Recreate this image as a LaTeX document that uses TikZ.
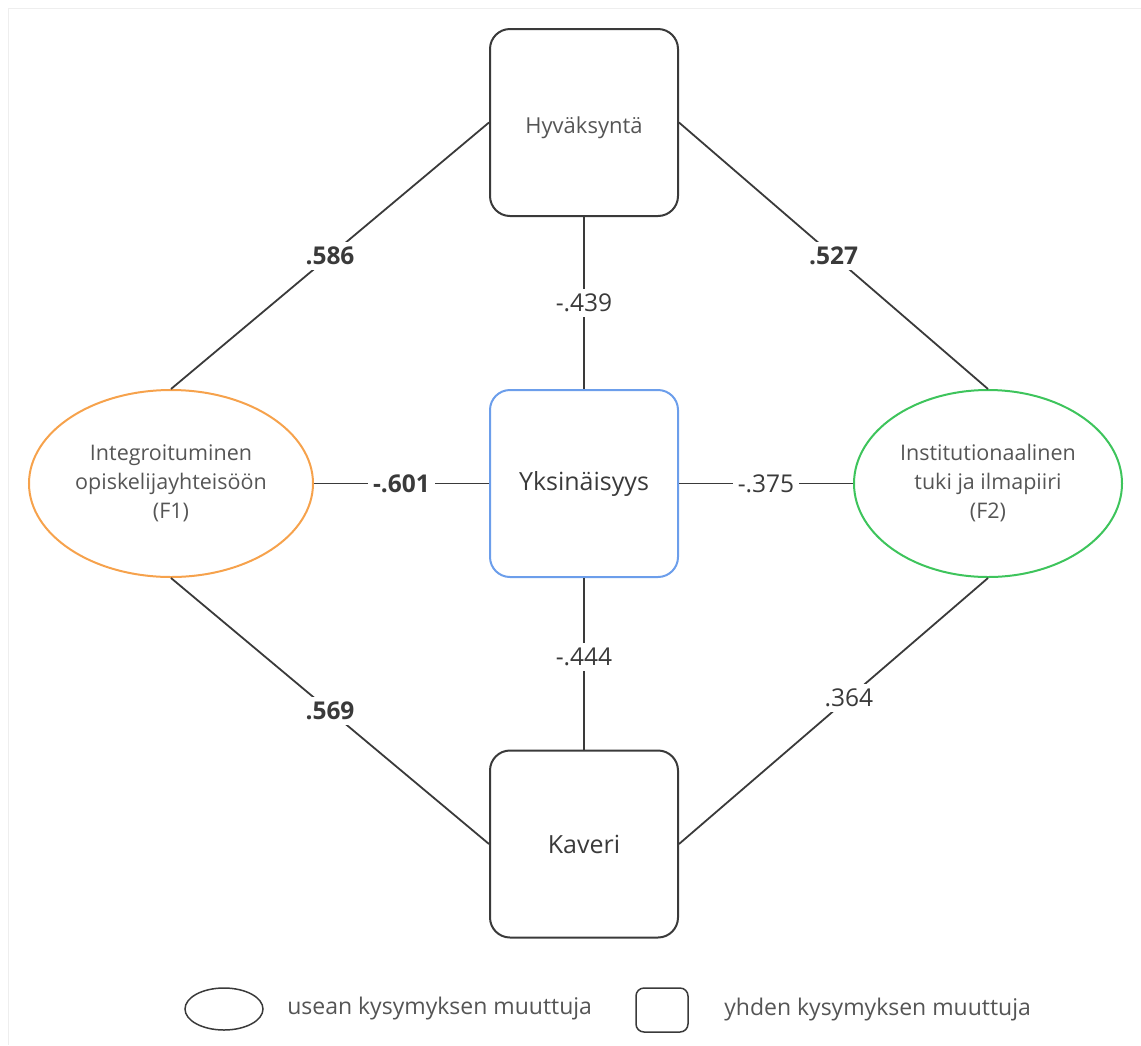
\documentclass[tikz,border=0pt]{standalone}
\usepackage{fontspec}
\setmainfont{Open Sans}
\usetikzlibrary{shapes.geometric,positioning}
\definecolor{linegray}{HTML}{3A3A3A}
\definecolor{textgray}{HTML}{555555}
\definecolor{framegray}{HTML}{EEEEEE}
\definecolor{yblue}{HTML}{6C9EEB}
\definecolor{forange}{HTML}{F6A24C}
\definecolor{fgreen}{HTML}{3EC45C}
\tikzset{
    varbox/.style={draw=linegray, line width=2pt, rounded corners=20pt,
        minimum width=188pt, minimum height=187pt, inner sep=0pt,
        text=textgray, font=\fontsize{22}{28}\selectfont},
    factor/.style={ellipse, line width=2pt, inner sep=0pt,
        minimum height=187pt, align=center, text=textgray,
        font=\fontsize{21.5}{29}\selectfont},
    path/.style={draw=linegray, line width=1.8pt},
    coef/.style={fill=white, inner sep=5pt, text=linegray,
        font=\fontsize{24.5}{28}\selectfont},
    bcoef/.style={coef, font=\fontsize{24.5}{28}\selectfont\bfseries},
    legtext/.style={text=textgray, anchor=west, font=\fontsize{23}{28}\selectfont}
}
\begin{document}
\begin{tikzpicture}[x=1pt, y=-1pt]
    \useasboundingbox (0,0) rectangle (1141,1045);
    %% faint frame
    \draw[framegray, line width=1pt] (8,1045) -- (8,8) -- (1141,8);
    %% variables
    \node[varbox] (hyv) at (584,122.5) {\rule{0pt}{28pt}Hyväksyntä};
    \node[varbox, draw=yblue, text=linegray, font=\fontsize{25}{30}\selectfont] (yks) at (584,483.5) {Yksinäisyys};
    \node[varbox, text=linegray, font=\fontsize{25}{30}\selectfont] (kav) at (584,844) {Kaveri};
    %% factors
    \node[factor, draw=forange, minimum width=284pt] (fone) at (171,483.5)
        {Integroituminen\\opiskelijayhteisöön\\(F1)};
    \node[factor, draw=fgreen, minimum width=268pt] (ftwo) at (988,483.5)
        {Institutionaalinen\\tuki ja ilmapiiri\\(F2)};
    %% paths
    \draw[path] (hyv.west) -- node[bcoef] {.586} (fone.north);
    \draw[path] (hyv.east) -- node[bcoef] {.527} (ftwo.north);
    \draw[path] (hyv.south) -- node[coef] {-.439} (yks.north);
    \draw[path] (fone.east) -- node[bcoef] {-.601} (yks.west);
    \draw[path] (yks.east) -- node[coef] {-.375} (ftwo.west);
    \draw[path] (yks.south) -- node[coef, pos=0.46] {-.444} (kav.north);
    \draw[path] (fone.south) -- node[bcoef] {.569} (kav.west);
    \draw[path] (ftwo.south) -- node[coef, pos=0.45] {.364} (kav.east);
    %% legend
    \node[ellipse, draw=linegray, line width=1.5pt, minimum width=78pt,
        minimum height=42pt] (legf) at (224,1009) {};
    \node[legtext, right=20pt of legf] (legftext) {usean kysymyksen muuttuja};
    \node[draw=linegray, line width=1.5pt, rounded corners=8pt,
        minimum width=52pt, minimum height=44pt] (legv) at (662,1010) {};
    \node[legtext, right=32pt of legv] (legvtext) {yhden kysymyksen muuttuja};
\end{tikzpicture}
\end{document}
